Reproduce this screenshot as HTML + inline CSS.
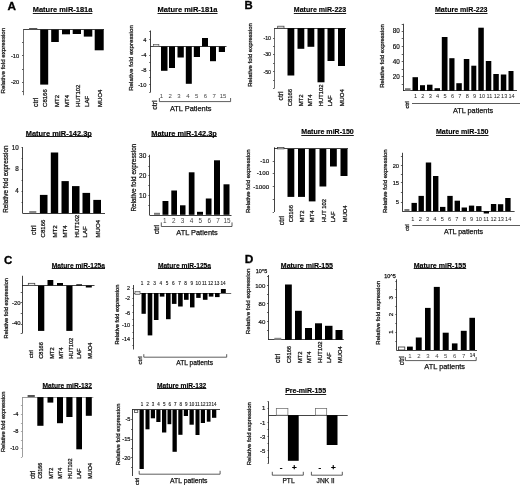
<!DOCTYPE html>
<html><head><meta charset="utf-8"><title>Figure</title>
<style>
html,body{margin:0;padding:0;background:#fff;}
body{width:520px;height:485px;overflow:hidden;}
svg{display:block;font-family:"Liberation Sans",sans-serif;}
</style></head><body>
<svg width="520" height="485" viewBox="0 0 520 485">
<defs><filter id="soft" x="0" y="0" width="520" height="485" filterUnits="userSpaceOnUse"><feGaussianBlur stdDeviation="0.35"/></filter></defs>
<rect x="0" y="0" width="520" height="485" fill="#fff"/>
<g filter="url(#soft)">
<text x="11.65" y="10.20" font-size="11.5" text-anchor="middle" font-weight="bold" fill="#000" stroke="#000" stroke-width="0.3" textLength="8.50" lengthAdjust="spacingAndGlyphs">A</text>
<text x="248.70" y="8.70" font-size="11.5" text-anchor="middle" font-weight="bold" fill="#000" stroke="#000" stroke-width="0.3" textLength="8.20" lengthAdjust="spacingAndGlyphs">B</text>
<text x="8.25" y="263.70" font-size="11.5" text-anchor="middle" font-weight="bold" fill="#000" stroke="#000" stroke-width="0.3" textLength="8.30" lengthAdjust="spacingAndGlyphs">C</text>
<text x="249.10" y="263.10" font-size="11.5" text-anchor="middle" font-weight="bold" fill="#000" stroke="#000" stroke-width="0.3" textLength="8.60" lengthAdjust="spacingAndGlyphs">D</text>
<text x="62.55" y="12.30" font-size="7" text-anchor="middle" font-weight="bold" fill="#000" stroke="#000" stroke-width="0.15" textLength="59.50" lengthAdjust="spacingAndGlyphs">Mature miR-181a</text>
<line x1="32.80" y1="13.50" x2="92.30" y2="13.50" stroke="#000" stroke-width="0.9"/>
<text transform="translate(5.03,60.60) rotate(-90)" font-size="6.2" text-anchor="middle" fill="#111" stroke="#111" stroke-width="0.25">Relative fold expression</text>
<line x1="23.50" y1="29.40" x2="23.50" y2="95.20" stroke="#4a4a4a" stroke-width="0.82"/>
<line x1="23.30" y1="29.50" x2="104.00" y2="29.50" stroke="#1a1a1a" stroke-width="0.82"/>
<line x1="22.00" y1="42.50" x2="23.30" y2="42.50" stroke="#222" stroke-width="0.7"/>
<line x1="22.00" y1="55.50" x2="23.30" y2="55.50" stroke="#222" stroke-width="0.7"/>
<line x1="22.00" y1="69.50" x2="23.30" y2="69.50" stroke="#222" stroke-width="0.7"/>
<line x1="22.00" y1="82.50" x2="23.30" y2="82.50" stroke="#222" stroke-width="0.7"/>
<line x1="22.00" y1="91.50" x2="23.30" y2="91.50" stroke="#222" stroke-width="0.7"/>
<text x="19.20" y="57.66" font-size="5.733" text-anchor="end" fill="#111" stroke="#111" stroke-width="0.2">-10</text>
<text x="19.20" y="84.06" font-size="5.733" text-anchor="end" fill="#111" stroke="#111" stroke-width="0.2">-20</text>
<rect x="29.10" y="28.00" width="8.20" height="1.60" fill="#555"/>
<text transform="translate(37.58,106.90) rotate(-90)" font-size="6.9" text-anchor="start" fill="#111" stroke="#111" stroke-width="0.25">ctrl</text>
<rect x="40.20" y="29.60" width="8.00" height="55.00" fill="#000"/>
<text transform="translate(47.26,106.90) rotate(-90)" font-size="6" text-anchor="start" fill="#111" stroke="#111" stroke-width="0.25">C8166</text>
<rect x="51.20" y="29.60" width="7.60" height="12.40" fill="#000"/>
<text transform="translate(58.56,106.90) rotate(-90)" font-size="6" text-anchor="start" fill="#111" stroke="#111" stroke-width="0.25">MT2</text>
<rect x="62.00" y="29.60" width="8.00" height="4.70" fill="#000"/>
<text transform="translate(68.86,106.90) rotate(-90)" font-size="6" text-anchor="start" fill="#111" stroke="#111" stroke-width="0.25">MT4</text>
<rect x="72.70" y="29.60" width="8.30" height="4.40" fill="#000"/>
<text transform="translate(80.16,106.90) rotate(-90)" font-size="6" text-anchor="start" fill="#111" stroke="#111" stroke-width="0.25">HUT102</text>
<rect x="83.80" y="29.60" width="8.50" height="7.00" fill="#000"/>
<text transform="translate(89.06,106.90) rotate(-90)" font-size="6" text-anchor="start" fill="#111" stroke="#111" stroke-width="0.25">LAF</text>
<rect x="94.70" y="29.60" width="9.00" height="20.70" fill="#000"/>
<text transform="translate(102.16,106.90) rotate(-90)" font-size="6" text-anchor="start" fill="#111" stroke="#111" stroke-width="0.25">MUO4</text>
<text x="187.50" y="12.30" font-size="7" text-anchor="middle" font-weight="bold" fill="#000" stroke="#000" stroke-width="0.15" textLength="60.00" lengthAdjust="spacingAndGlyphs">Mature miR-181a</text>
<line x1="157.50" y1="13.50" x2="217.50" y2="13.50" stroke="#000" stroke-width="0.9"/>
<text transform="translate(132.83,58.00) rotate(-90)" font-size="6.2" text-anchor="middle" fill="#111" stroke="#111" stroke-width="0.25">Relative fold expression</text>
<line x1="150.50" y1="30.50" x2="150.50" y2="92.30" stroke="#1a1a1a" stroke-width="0.82"/>
<line x1="150.50" y1="46.50" x2="226.50" y2="46.50" stroke="#1a1a1a" stroke-width="0.82"/>
<line x1="149.20" y1="31.50" x2="150.50" y2="31.50" stroke="#222" stroke-width="0.7"/>
<line x1="149.20" y1="39.50" x2="150.50" y2="39.50" stroke="#222" stroke-width="0.7"/>
<line x1="149.20" y1="55.50" x2="150.50" y2="55.50" stroke="#222" stroke-width="0.7"/>
<line x1="149.20" y1="62.50" x2="150.50" y2="62.50" stroke="#222" stroke-width="0.7"/>
<line x1="149.20" y1="70.50" x2="150.50" y2="70.50" stroke="#222" stroke-width="0.7"/>
<line x1="149.20" y1="77.50" x2="150.50" y2="77.50" stroke="#222" stroke-width="0.7"/>
<line x1="149.20" y1="84.50" x2="150.50" y2="84.50" stroke="#222" stroke-width="0.7"/>
<line x1="149.20" y1="92.50" x2="150.50" y2="92.50" stroke="#222" stroke-width="0.7"/>
<text x="146.40" y="41.76" font-size="5.733" text-anchor="end" fill="#111" stroke="#111" stroke-width="0.2">4</text>
<text x="146.40" y="57.46" font-size="5.733" text-anchor="end" fill="#111" stroke="#111" stroke-width="0.2">-4</text>
<text x="146.40" y="72.06" font-size="5.733" text-anchor="end" fill="#111" stroke="#111" stroke-width="0.2">-8</text>
<text x="146.40" y="86.96" font-size="5.733" text-anchor="end" fill="#111" stroke="#111" stroke-width="0.2">-10</text>
<rect x="153.50" y="44.50" width="5.40" height="1.90" fill="#ddd" stroke="#444" stroke-width="0.6"/>
<rect x="161.00" y="46.40" width="6.50" height="24.40" fill="#000"/>
<rect x="169.00" y="46.40" width="6.00" height="21.60" fill="#000"/>
<rect x="177.50" y="46.40" width="6.30" height="11.10" fill="#000"/>
<rect x="185.80" y="46.40" width="6.00" height="37.40" fill="#000"/>
<rect x="193.80" y="46.40" width="6.20" height="10.60" fill="#000"/>
<rect x="202.00" y="38.00" width="6.00" height="8.40" fill="#000"/>
<rect x="210.00" y="46.40" width="6.00" height="14.80" fill="#000"/>
<rect x="218.80" y="46.40" width="6.20" height="5.60" fill="#000"/>
<text x="161.40" y="98.20" font-size="6" text-anchor="middle" fill="#444">1</text>
<text x="170.20" y="98.20" font-size="6" text-anchor="middle" fill="#444">2</text>
<text x="179.00" y="98.20" font-size="6" text-anchor="middle" fill="#444">3</text>
<text x="187.80" y="98.20" font-size="6" text-anchor="middle" fill="#444">4</text>
<text x="196.60" y="98.20" font-size="6" text-anchor="middle" fill="#444">5</text>
<text x="205.40" y="98.20" font-size="6" text-anchor="middle" fill="#444">6</text>
<text x="214.20" y="98.20" font-size="6" text-anchor="middle" fill="#444">7</text>
<text x="223.00" y="98.20" font-size="6" text-anchor="middle" fill="#444">15</text>
<text transform="translate(156.52,109.70) rotate(-90)" font-size="7" text-anchor="start" fill="#111" stroke="#111" stroke-width="0.25">ctrl</text>
<polyline points="159.40,98.00 159.40,101.60 230.60,101.60 230.60,98.00" fill="none" stroke="#333" stroke-width="0.8"/>
<text x="190.70" y="110.80" font-size="7.4" text-anchor="middle" fill="#111" stroke="#111" stroke-width="0.25">ATL Patients</text>
<text x="320.00" y="12.30" font-size="7" text-anchor="middle" font-weight="bold" fill="#000" stroke="#000" stroke-width="0.15" textLength="52.40" lengthAdjust="spacingAndGlyphs">Mature miR-223</text>
<line x1="293.80" y1="13.50" x2="346.20" y2="13.50" stroke="#000" stroke-width="0.9"/>
<text transform="translate(251.96,55.00) rotate(-90)" font-size="6" text-anchor="middle" fill="#111" stroke="#111" stroke-width="0.25">Relative fold expression</text>
<line x1="274.50" y1="28.00" x2="274.50" y2="88.40" stroke="#4a4a4a" stroke-width="0.82"/>
<line x1="274.30" y1="28.50" x2="346.00" y2="28.50" stroke="#1a1a1a" stroke-width="0.82"/>
<line x1="273.00" y1="38.50" x2="274.30" y2="38.50" stroke="#222" stroke-width="0.7"/>
<line x1="273.00" y1="46.50" x2="274.30" y2="46.50" stroke="#222" stroke-width="0.7"/>
<line x1="273.00" y1="54.50" x2="274.30" y2="54.50" stroke="#222" stroke-width="0.7"/>
<line x1="273.00" y1="63.50" x2="274.30" y2="63.50" stroke="#222" stroke-width="0.7"/>
<line x1="273.00" y1="71.50" x2="274.30" y2="71.50" stroke="#222" stroke-width="0.7"/>
<line x1="273.00" y1="80.50" x2="274.30" y2="80.50" stroke="#222" stroke-width="0.7"/>
<line x1="273.00" y1="88.50" x2="274.30" y2="88.50" stroke="#222" stroke-width="0.7"/>
<text x="271.00" y="40.00" font-size="5.278" text-anchor="end" fill="#111" stroke="#111" stroke-width="0.2">-10</text>
<text x="271.00" y="56.20" font-size="5.278" text-anchor="end" fill="#111" stroke="#111" stroke-width="0.2">-30</text>
<text x="271.00" y="73.60" font-size="5.278" text-anchor="end" fill="#111" stroke="#111" stroke-width="0.2">-50</text>
<rect x="277.70" y="26.20" width="6.30" height="2.00" fill="#eee" stroke="#333" stroke-width="0.7"/>
<text transform="translate(283.48,100.40) rotate(-90)" font-size="6.6" text-anchor="start" fill="#111" stroke="#111" stroke-width="0.25">ctrl</text>
<rect x="287.50" y="28.20" width="6.80" height="47.30" fill="#000"/>
<text transform="translate(292.22,106.30) rotate(-90)" font-size="5.9" text-anchor="start" fill="#111" stroke="#111" stroke-width="0.25">C8166</text>
<rect x="297.50" y="28.20" width="6.80" height="20.60" fill="#000"/>
<text transform="translate(302.92,106.30) rotate(-90)" font-size="5.9" text-anchor="start" fill="#111" stroke="#111" stroke-width="0.25">MT2</text>
<rect x="307.50" y="28.20" width="6.80" height="18.60" fill="#000"/>
<text transform="translate(312.42,106.30) rotate(-90)" font-size="5.9" text-anchor="start" fill="#111" stroke="#111" stroke-width="0.25">MT4</text>
<rect x="317.50" y="28.20" width="7.00" height="54.10" fill="#000"/>
<text transform="translate(323.42,106.30) rotate(-90)" font-size="5.9" text-anchor="start" fill="#111" stroke="#111" stroke-width="0.25">HUT102</text>
<rect x="327.50" y="28.20" width="7.00" height="32.80" fill="#000"/>
<text transform="translate(332.32,106.30) rotate(-90)" font-size="5.9" text-anchor="start" fill="#111" stroke="#111" stroke-width="0.25">LAF</text>
<rect x="338.00" y="28.20" width="7.00" height="37.80" fill="#000"/>
<text transform="translate(343.72,106.30) rotate(-90)" font-size="5.9" text-anchor="start" fill="#111" stroke="#111" stroke-width="0.25">MUO4</text>
<text x="461.25" y="12.30" font-size="7" text-anchor="middle" font-weight="bold" fill="#000" stroke="#000" stroke-width="0.15" textLength="52.50" lengthAdjust="spacingAndGlyphs">Mature miR-223</text>
<line x1="435.00" y1="13.50" x2="487.50" y2="13.50" stroke="#000" stroke-width="0.9"/>
<text transform="translate(383.86,56.00) rotate(-90)" font-size="6" text-anchor="middle" fill="#111" stroke="#111" stroke-width="0.25">Relative fold expression</text>
<line x1="403.50" y1="23.80" x2="403.50" y2="90.90" stroke="#1a1a1a" stroke-width="0.82"/>
<line x1="403.00" y1="90.50" x2="517.00" y2="90.50" stroke="#1a1a1a" stroke-width="0.82"/>
<text x="399.80" y="33.49" font-size="6.37" text-anchor="end" fill="#111" stroke="#111" stroke-width="0.2">80</text>
<text x="399.80" y="48.79" font-size="6.37" text-anchor="end" fill="#111" stroke="#111" stroke-width="0.2">60</text>
<text x="399.80" y="63.69" font-size="6.37" text-anchor="end" fill="#111" stroke="#111" stroke-width="0.2">40</text>
<text x="399.80" y="79.09" font-size="6.37" text-anchor="end" fill="#111" stroke="#111" stroke-width="0.2">20</text>
<line x1="401.70" y1="24.50" x2="403.00" y2="24.50" stroke="#222" stroke-width="0.7"/>
<line x1="401.70" y1="31.50" x2="403.00" y2="31.50" stroke="#222" stroke-width="0.7"/>
<line x1="401.70" y1="38.50" x2="403.00" y2="38.50" stroke="#222" stroke-width="0.7"/>
<line x1="401.70" y1="46.50" x2="403.00" y2="46.50" stroke="#222" stroke-width="0.7"/>
<line x1="401.70" y1="54.50" x2="403.00" y2="54.50" stroke="#222" stroke-width="0.7"/>
<line x1="401.70" y1="61.50" x2="403.00" y2="61.50" stroke="#222" stroke-width="0.7"/>
<line x1="401.70" y1="69.50" x2="403.00" y2="69.50" stroke="#222" stroke-width="0.7"/>
<line x1="401.70" y1="76.50" x2="403.00" y2="76.50" stroke="#222" stroke-width="0.7"/>
<line x1="401.70" y1="84.50" x2="403.00" y2="84.50" stroke="#222" stroke-width="0.7"/>
<rect x="405.00" y="88.20" width="5.50" height="2.50" fill="#777"/>
<rect x="412.50" y="77.20" width="5.50" height="13.50" fill="#000"/>
<rect x="420.00" y="85.20" width="5.00" height="5.50" fill="#000"/>
<rect x="427.00" y="84.70" width="5.50" height="6.00" fill="#000"/>
<rect x="434.50" y="88.20" width="5.50" height="2.50" fill="#000"/>
<rect x="441.80" y="37.00" width="5.70" height="53.70" fill="#000"/>
<rect x="449.30" y="58.20" width="5.20" height="32.50" fill="#000"/>
<rect x="456.30" y="83.20" width="5.50" height="7.50" fill="#000"/>
<rect x="463.80" y="59.00" width="5.50" height="31.70" fill="#000"/>
<rect x="471.30" y="65.70" width="5.00" height="25.00" fill="#000"/>
<rect x="478.30" y="27.70" width="5.50" height="63.00" fill="#000"/>
<rect x="485.80" y="61.00" width="5.50" height="29.70" fill="#000"/>
<rect x="493.30" y="74.00" width="5.50" height="16.70" fill="#000"/>
<rect x="500.80" y="74.50" width="5.50" height="16.20" fill="#000"/>
<rect x="508.50" y="71.00" width="5.00" height="19.70" fill="#000"/>
<text x="415.50" y="98.20" font-size="5.6" text-anchor="middle" fill="#222">1</text>
<text x="422.89" y="98.20" font-size="5.6" text-anchor="middle" fill="#222">2</text>
<text x="430.28" y="98.20" font-size="5.6" text-anchor="middle" fill="#222">3</text>
<text x="437.68" y="98.20" font-size="5.6" text-anchor="middle" fill="#222">4</text>
<text x="445.07" y="98.20" font-size="5.6" text-anchor="middle" fill="#222">5</text>
<text x="452.46" y="98.20" font-size="5.6" text-anchor="middle" fill="#222">6</text>
<text x="459.85" y="98.20" font-size="5.6" text-anchor="middle" fill="#222">7</text>
<text x="467.25" y="98.20" font-size="5.6" text-anchor="middle" fill="#222">8</text>
<text x="474.64" y="98.20" font-size="5.6" text-anchor="middle" fill="#222">9</text>
<text x="482.03" y="98.20" font-size="5.6" text-anchor="middle" fill="#222">10</text>
<text x="489.42" y="98.20" font-size="5.6" text-anchor="middle" fill="#222">11</text>
<text x="496.82" y="98.20" font-size="5.6" text-anchor="middle" fill="#222">12</text>
<text x="504.21" y="98.20" font-size="5.6" text-anchor="middle" fill="#222">13</text>
<text x="511.60" y="98.20" font-size="5.6" text-anchor="middle" fill="#222">14</text>
<text transform="translate(408.52,108.60) rotate(-90)" font-size="5.6" text-anchor="start" fill="#111" stroke="#111" stroke-width="0.25">ctrl</text>
<line x1="412.00" y1="103.50" x2="520.00" y2="103.50" stroke="#333" stroke-width="0.8"/>
<text x="473.00" y="112.80" font-size="7.3" text-anchor="middle" fill="#111" stroke="#111" stroke-width="0.25">ATL patients</text>
<text x="58.80" y="136.00" font-size="7" text-anchor="middle" font-weight="bold" fill="#000" stroke="#000" stroke-width="0.15" textLength="66.00" lengthAdjust="spacingAndGlyphs">Mature miR-142.3p</text>
<line x1="25.80" y1="136.50" x2="91.80" y2="136.50" stroke="#000" stroke-width="0.9"/>
<text transform="translate(8.49,179.20) rotate(-90)" font-size="6.35" text-anchor="middle" fill="#111" stroke="#111" stroke-width="0.25">Relative fold expression</text>
<line x1="22.50" y1="147.20" x2="22.50" y2="213.50" stroke="#1a1a1a" stroke-width="0.82"/>
<line x1="22.80" y1="213.50" x2="105.00" y2="213.50" stroke="#1a1a1a" stroke-width="0.82"/>
<line x1="21.50" y1="147.50" x2="22.80" y2="147.50" stroke="#222" stroke-width="0.7"/>
<line x1="21.50" y1="158.50" x2="22.80" y2="158.50" stroke="#222" stroke-width="0.7"/>
<line x1="21.50" y1="169.50" x2="22.80" y2="169.50" stroke="#222" stroke-width="0.7"/>
<line x1="21.50" y1="180.50" x2="22.80" y2="180.50" stroke="#222" stroke-width="0.7"/>
<line x1="21.50" y1="191.50" x2="22.80" y2="191.50" stroke="#222" stroke-width="0.7"/>
<line x1="21.50" y1="202.50" x2="22.80" y2="202.50" stroke="#222" stroke-width="0.7"/>
<text x="18.80" y="149.56" font-size="6.279000000000001" text-anchor="end" fill="#111" stroke="#111" stroke-width="0.2">10</text>
<text x="18.80" y="171.46" font-size="6.279000000000001" text-anchor="end" fill="#111" stroke="#111" stroke-width="0.2">8</text>
<text x="18.80" y="193.36" font-size="6.279000000000001" text-anchor="end" fill="#111" stroke="#111" stroke-width="0.2">4</text>
<rect x="29.20" y="211.00" width="7.10" height="2.20" fill="#888"/>
<text transform="translate(36.26,235.20) rotate(-90)" font-size="7.4" text-anchor="start" fill="#111" stroke="#111" stroke-width="0.25">ctrl</text>
<rect x="39.90" y="194.90" width="7.60" height="18.30" fill="#000"/>
<text transform="translate(45.40,237.50) rotate(-90)" font-size="6.1" text-anchor="start" fill="#111" stroke="#111" stroke-width="0.25">C8166</text>
<rect x="50.80" y="152.50" width="7.40" height="60.70" fill="#000"/>
<text transform="translate(56.60,237.50) rotate(-90)" font-size="6.1" text-anchor="start" fill="#111" stroke="#111" stroke-width="0.25">MT2</text>
<rect x="61.50" y="181.10" width="7.30" height="32.10" fill="#000"/>
<text transform="translate(67.20,237.50) rotate(-90)" font-size="6.1" text-anchor="start" fill="#111" stroke="#111" stroke-width="0.25">MT4</text>
<rect x="72.00" y="186.10" width="7.50" height="27.10" fill="#000"/>
<text transform="translate(78.80,237.50) rotate(-90)" font-size="6.1" text-anchor="start" fill="#111" stroke="#111" stroke-width="0.25">HUT102</text>
<rect x="82.50" y="192.90" width="7.60" height="20.30" fill="#000"/>
<text transform="translate(87.10,237.50) rotate(-90)" font-size="6.1" text-anchor="start" fill="#111" stroke="#111" stroke-width="0.25">LAF</text>
<rect x="93.30" y="199.90" width="7.70" height="13.30" fill="#000"/>
<text transform="translate(100.20,237.50) rotate(-90)" font-size="6.1" text-anchor="start" fill="#111" stroke="#111" stroke-width="0.25">MUO4</text>
<text x="184.05" y="136.00" font-size="7" text-anchor="middle" font-weight="bold" fill="#000" stroke="#000" stroke-width="0.15" textLength="65.50" lengthAdjust="spacingAndGlyphs">Mature miR-142.3p</text>
<line x1="151.30" y1="136.50" x2="216.80" y2="136.50" stroke="#000" stroke-width="0.9"/>
<text transform="translate(136.00,177.60) rotate(-90)" font-size="6.4" text-anchor="middle" fill="#111" stroke="#111" stroke-width="0.25">Relative fold expression</text>
<line x1="149.50" y1="154.80" x2="149.50" y2="215.20" stroke="#1a1a1a" stroke-width="0.82"/>
<line x1="149.60" y1="215.50" x2="231.50" y2="215.50" stroke="#1a1a1a" stroke-width="0.82"/>
<line x1="148.30" y1="156.50" x2="149.60" y2="156.50" stroke="#222" stroke-width="0.7"/>
<line x1="148.30" y1="166.50" x2="149.60" y2="166.50" stroke="#222" stroke-width="0.7"/>
<line x1="148.30" y1="175.50" x2="149.60" y2="175.50" stroke="#222" stroke-width="0.7"/>
<line x1="148.30" y1="185.50" x2="149.60" y2="185.50" stroke="#222" stroke-width="0.7"/>
<line x1="148.30" y1="195.50" x2="149.60" y2="195.50" stroke="#222" stroke-width="0.7"/>
<line x1="148.30" y1="205.50" x2="149.60" y2="205.50" stroke="#222" stroke-width="0.7"/>
<text x="146.30" y="158.33" font-size="6.461" text-anchor="end" fill="#111" stroke="#111" stroke-width="0.2">30</text>
<text x="146.30" y="177.73" font-size="6.461" text-anchor="end" fill="#111" stroke="#111" stroke-width="0.2">20</text>
<text x="146.30" y="197.73" font-size="6.461" text-anchor="end" fill="#111" stroke="#111" stroke-width="0.2">10</text>
<rect x="154.00" y="212.80" width="6.00" height="2.00" fill="#777"/>
<rect x="162.50" y="201.00" width="5.90" height="13.80" fill="#000"/>
<rect x="171.30" y="190.50" width="5.70" height="24.30" fill="#000"/>
<rect x="180.00" y="205.30" width="5.50" height="9.50" fill="#000"/>
<rect x="188.80" y="172.30" width="5.70" height="42.50" fill="#000"/>
<rect x="197.00" y="211.80" width="6.00" height="3.00" fill="#000"/>
<rect x="205.80" y="198.50" width="5.70" height="16.30" fill="#000"/>
<rect x="214.00" y="160.30" width="6.00" height="54.50" fill="#000"/>
<rect x="223.50" y="184.30" width="6.00" height="30.50" fill="#000"/>
<text x="164.80" y="223.20" font-size="6.4" text-anchor="middle" fill="#444">1</text>
<text x="173.69" y="223.20" font-size="6.4" text-anchor="middle" fill="#444">2</text>
<text x="182.57" y="223.20" font-size="6.4" text-anchor="middle" fill="#444">3</text>
<text x="191.46" y="223.20" font-size="6.4" text-anchor="middle" fill="#444">4</text>
<text x="200.34" y="223.20" font-size="6.4" text-anchor="middle" fill="#444">5</text>
<text x="209.23" y="223.20" font-size="6.4" text-anchor="middle" fill="#444">6</text>
<text x="218.11" y="223.20" font-size="6.4" text-anchor="middle" fill="#444">7</text>
<text x="227.00" y="223.20" font-size="6.4" text-anchor="middle" fill="#444">15</text>
<text transform="translate(158.52,234.30) rotate(-90)" font-size="7" text-anchor="start" fill="#111" stroke="#111" stroke-width="0.25">ctrl</text>
<polyline points="161.30,222.40 161.30,226.50 232.00,226.50 232.00,222.40" fill="none" stroke="#333" stroke-width="0.8"/>
<text x="197.00" y="235.00" font-size="7.4" text-anchor="middle" fill="#111" stroke="#111" stroke-width="0.25">ATL Patients</text>
<text x="327.55" y="134.30" font-size="7" text-anchor="middle" font-weight="bold" fill="#000" stroke="#000" stroke-width="0.15" textLength="52.50" lengthAdjust="spacingAndGlyphs">Mature miR-150</text>
<line x1="301.30" y1="135.50" x2="353.80" y2="135.50" stroke="#000" stroke-width="0.9"/>
<text transform="translate(249.96,181.20) rotate(-90)" font-size="6" text-anchor="middle" fill="#111" stroke="#111" stroke-width="0.25">Relative fold expression</text>
<line x1="274.50" y1="147.30" x2="274.50" y2="212.00" stroke="#1a1a1a" stroke-width="0.82"/>
<line x1="274.00" y1="148.50" x2="348.00" y2="148.50" stroke="#1a1a1a" stroke-width="0.82"/>
<line x1="272.70" y1="161.50" x2="274.00" y2="161.50" stroke="#222" stroke-width="0.7"/>
<line x1="272.70" y1="173.50" x2="274.00" y2="173.50" stroke="#222" stroke-width="0.7"/>
<line x1="272.70" y1="186.50" x2="274.00" y2="186.50" stroke="#222" stroke-width="0.7"/>
<line x1="272.70" y1="199.50" x2="274.00" y2="199.50" stroke="#222" stroke-width="0.7"/>
<line x1="272.70" y1="212.50" x2="274.00" y2="212.50" stroke="#222" stroke-width="0.7"/>
<text x="269.20" y="162.84" font-size="6.2335" text-anchor="end" fill="#111" stroke="#111" stroke-width="0.2">-10</text>
<text x="269.20" y="175.04" font-size="6.2335" text-anchor="end" fill="#111" stroke="#111" stroke-width="0.2">-100</text>
<text x="269.20" y="188.94" font-size="6.2335" text-anchor="end" fill="#111" stroke="#111" stroke-width="0.2">-1000</text>
<rect x="277.50" y="147.50" width="6.50" height="1.40" fill="#eee" stroke="#333" stroke-width="0.7"/>
<text transform="translate(284.08,225.20) rotate(-90)" font-size="6.9" text-anchor="start" fill="#111" stroke="#111" stroke-width="0.25">ctrl</text>
<rect x="287.50" y="148.90" width="6.80" height="48.00" fill="#000"/>
<text transform="translate(293.09,222.20) rotate(-90)" font-size="5.8" text-anchor="start" fill="#111" stroke="#111" stroke-width="0.25">C8166</text>
<rect x="298.00" y="148.90" width="7.00" height="48.00" fill="#000"/>
<text transform="translate(303.89,222.20) rotate(-90)" font-size="5.8" text-anchor="start" fill="#111" stroke="#111" stroke-width="0.25">MT2</text>
<rect x="308.80" y="148.90" width="6.70" height="52.50" fill="#000"/>
<text transform="translate(314.39,222.20) rotate(-90)" font-size="5.8" text-anchor="start" fill="#111" stroke="#111" stroke-width="0.25">MT4</text>
<rect x="319.50" y="148.90" width="6.80" height="37.60" fill="#000"/>
<text transform="translate(325.79,222.20) rotate(-90)" font-size="5.8" text-anchor="start" fill="#111" stroke="#111" stroke-width="0.25">HUT 102</text>
<rect x="330.00" y="148.90" width="6.80" height="17.60" fill="#000"/>
<text transform="translate(334.59,222.20) rotate(-90)" font-size="5.8" text-anchor="start" fill="#111" stroke="#111" stroke-width="0.25">LAF</text>
<rect x="340.50" y="148.90" width="7.00" height="27.10" fill="#000"/>
<text transform="translate(346.69,222.20) rotate(-90)" font-size="5.8" text-anchor="start" fill="#111" stroke="#111" stroke-width="0.25">MUO4</text>
<text x="462.25" y="134.30" font-size="7" text-anchor="middle" font-weight="bold" fill="#000" stroke="#000" stroke-width="0.15" textLength="52.50" lengthAdjust="spacingAndGlyphs">Mature miR-150</text>
<line x1="436.00" y1="135.50" x2="488.50" y2="135.50" stroke="#000" stroke-width="0.9"/>
<text transform="translate(387.36,181.20) rotate(-90)" font-size="6" text-anchor="middle" fill="#111" stroke="#111" stroke-width="0.25">Relative fold expression</text>
<line x1="402.50" y1="152.80" x2="402.50" y2="211.40" stroke="#1a1a1a" stroke-width="0.82"/>
<line x1="402.20" y1="211.50" x2="514.60" y2="211.50" stroke="#1a1a1a" stroke-width="0.82"/>
<line x1="400.90" y1="156.50" x2="402.20" y2="156.50" stroke="#222" stroke-width="0.7"/>
<line x1="400.90" y1="165.50" x2="402.20" y2="165.50" stroke="#222" stroke-width="0.7"/>
<line x1="400.90" y1="174.50" x2="402.20" y2="174.50" stroke="#222" stroke-width="0.7"/>
<line x1="400.90" y1="182.50" x2="402.20" y2="182.50" stroke="#222" stroke-width="0.7"/>
<line x1="400.90" y1="192.50" x2="402.20" y2="192.50" stroke="#222" stroke-width="0.7"/>
<line x1="400.90" y1="202.50" x2="402.20" y2="202.50" stroke="#222" stroke-width="0.7"/>
<text x="399.00" y="167.56" font-size="5.733" text-anchor="end" fill="#111" stroke="#111" stroke-width="0.2">20</text>
<text x="399.00" y="184.76" font-size="5.733" text-anchor="end" fill="#111" stroke="#111" stroke-width="0.2">15</text>
<text x="399.00" y="204.06" font-size="5.733" text-anchor="end" fill="#111" stroke="#111" stroke-width="0.2">5</text>
<rect x="404.40" y="209.00" width="5.00" height="2.20" fill="#777"/>
<rect x="411.50" y="202.90" width="5.40" height="8.30" fill="#000"/>
<rect x="418.50" y="195.90" width="5.40" height="15.30" fill="#000"/>
<rect x="425.80" y="162.50" width="5.40" height="48.70" fill="#000"/>
<rect x="433.00" y="176.00" width="5.40" height="35.20" fill="#000"/>
<rect x="440.00" y="206.90" width="5.40" height="4.30" fill="#000"/>
<rect x="447.30" y="195.90" width="5.40" height="15.30" fill="#000"/>
<rect x="454.60" y="200.70" width="5.40" height="10.50" fill="#000"/>
<rect x="461.60" y="207.50" width="5.40" height="3.70" fill="#000"/>
<rect x="468.90" y="205.60" width="5.30" height="5.60" fill="#000"/>
<rect x="476.10" y="206.10" width="5.40" height="5.10" fill="#000"/>
<rect x="483.70" y="211.20" width="5.30" height="2.30" fill="#000"/>
<rect x="490.90" y="204.00" width="5.40" height="7.20" fill="#000"/>
<rect x="497.90" y="204.20" width="5.40" height="7.00" fill="#000"/>
<rect x="505.20" y="198.00" width="5.40" height="13.20" fill="#000"/>
<text x="412.90" y="220.70" font-size="5.6" text-anchor="middle" fill="#222">1</text>
<text x="420.23" y="220.70" font-size="5.6" text-anchor="middle" fill="#222">2</text>
<text x="427.56" y="220.70" font-size="5.6" text-anchor="middle" fill="#222">3</text>
<text x="434.89" y="220.70" font-size="5.6" text-anchor="middle" fill="#222">4</text>
<text x="442.22" y="220.70" font-size="5.6" text-anchor="middle" fill="#222">5</text>
<text x="449.55" y="220.70" font-size="5.6" text-anchor="middle" fill="#222">6</text>
<text x="456.88" y="220.70" font-size="5.6" text-anchor="middle" fill="#222">7</text>
<text x="464.22" y="220.70" font-size="5.6" text-anchor="middle" fill="#222">8</text>
<text x="471.55" y="220.70" font-size="5.6" text-anchor="middle" fill="#222">9</text>
<text x="478.88" y="220.70" font-size="5.6" text-anchor="middle" fill="#222">10</text>
<text x="486.21" y="220.70" font-size="5.6" text-anchor="middle" fill="#222">11</text>
<text x="493.54" y="220.70" font-size="5.6" text-anchor="middle" fill="#222">12</text>
<text x="500.87" y="220.70" font-size="5.6" text-anchor="middle" fill="#222">13</text>
<text x="508.20" y="220.70" font-size="5.6" text-anchor="middle" fill="#222">14</text>
<text transform="translate(408.70,231.00) rotate(-90)" font-size="5" text-anchor="start" fill="#111" stroke="#111" stroke-width="0.25">ctrl</text>
<line x1="412.30" y1="225.50" x2="520.00" y2="225.50" stroke="#333" stroke-width="0.8"/>
<text x="463.50" y="233.80" font-size="7.1" text-anchor="middle" fill="#111" stroke="#111" stroke-width="0.25">ATL patients</text>
<text x="78.40" y="267.80" font-size="7" text-anchor="middle" font-weight="bold" fill="#000" stroke="#000" stroke-width="0.15" textLength="53.20" lengthAdjust="spacingAndGlyphs">Mature miR-125a</text>
<line x1="51.80" y1="268.50" x2="105.00" y2="268.50" stroke="#000" stroke-width="0.9"/>
<text transform="translate(7.65,308.20) rotate(-90)" font-size="5.7" text-anchor="middle" fill="#111" stroke="#111" stroke-width="0.25">Relative fold expression</text>
<line x1="22.50" y1="275.80" x2="22.50" y2="333.50" stroke="#1a1a1a" stroke-width="0.82"/>
<line x1="22.00" y1="285.50" x2="94.50" y2="285.50" stroke="#1a1a1a" stroke-width="0.82"/>
<line x1="20.70" y1="292.50" x2="22.00" y2="292.50" stroke="#222" stroke-width="0.7"/>
<line x1="20.70" y1="302.50" x2="22.00" y2="302.50" stroke="#222" stroke-width="0.7"/>
<line x1="20.70" y1="313.50" x2="22.00" y2="313.50" stroke="#222" stroke-width="0.7"/>
<line x1="20.70" y1="324.50" x2="22.00" y2="324.50" stroke="#222" stroke-width="0.7"/>
<line x1="20.70" y1="333.50" x2="22.00" y2="333.50" stroke="#222" stroke-width="0.7"/>
<text x="20.60" y="305.33" font-size="5.915" text-anchor="end" fill="#111" stroke="#111" stroke-width="0.2">-20</text>
<text x="20.60" y="324.93" font-size="5.915" text-anchor="end" fill="#111" stroke="#111" stroke-width="0.2">-40</text>
<rect x="28.30" y="283.30" width="6.50" height="2.30" fill="#eee" stroke="#333" stroke-width="0.7"/>
<text transform="translate(32.73,358.30) rotate(-90)" font-size="6.2" text-anchor="start" fill="#111" stroke="#111" stroke-width="0.25">ctrl</text>
<rect x="38.00" y="285.60" width="6.30" height="45.30" fill="#000"/>
<text transform="translate(43.12,358.70) rotate(-90)" font-size="5.6" text-anchor="start" fill="#111" stroke="#111" stroke-width="0.25">C8166</text>
<rect x="47.50" y="280.00" width="5.80" height="5.60" fill="#000"/>
<text transform="translate(53.62,358.70) rotate(-90)" font-size="5.6" text-anchor="start" fill="#111" stroke="#111" stroke-width="0.25">MT2</text>
<rect x="57.00" y="283.00" width="6.00" height="2.60" fill="#000"/>
<text transform="translate(62.72,358.70) rotate(-90)" font-size="5.6" text-anchor="start" fill="#111" stroke="#111" stroke-width="0.25">MT4</text>
<rect x="66.30" y="285.60" width="6.20" height="45.30" fill="#000"/>
<text transform="translate(72.92,358.70) rotate(-90)" font-size="5.6" text-anchor="start" fill="#111" stroke="#111" stroke-width="0.25">HUT102</text>
<rect x="76.30" y="284.30" width="5.70" height="1.30" fill="#000"/>
<text transform="translate(80.62,358.70) rotate(-90)" font-size="5.6" text-anchor="start" fill="#111" stroke="#111" stroke-width="0.25">LAF</text>
<rect x="85.80" y="285.60" width="6.00" height="1.90" fill="#000"/>
<text transform="translate(92.02,358.70) rotate(-90)" font-size="5.6" text-anchor="start" fill="#111" stroke="#111" stroke-width="0.25">MUO4</text>
<text x="184.45" y="267.80" font-size="7" text-anchor="middle" font-weight="bold" fill="#000" stroke="#000" stroke-width="0.15" textLength="53.10" lengthAdjust="spacingAndGlyphs">Mature miR-125a</text>
<line x1="157.90" y1="268.50" x2="211.00" y2="268.50" stroke="#000" stroke-width="0.9"/>
<text transform="translate(119.33,314.60) rotate(-90)" font-size="5.65" text-anchor="middle" fill="#111" stroke="#111" stroke-width="0.25">Relative fold expression</text>
<line x1="133.50" y1="285.00" x2="133.50" y2="349.50" stroke="#1a1a1a" stroke-width="0.82"/>
<line x1="133.70" y1="293.50" x2="231.20" y2="293.50" stroke="#444" stroke-width="0.82"/>
<line x1="132.40" y1="288.50" x2="133.70" y2="288.50" stroke="#222" stroke-width="0.7"/>
<line x1="132.40" y1="298.50" x2="133.70" y2="298.50" stroke="#222" stroke-width="0.7"/>
<line x1="132.40" y1="305.50" x2="133.70" y2="305.50" stroke="#222" stroke-width="0.7"/>
<line x1="132.40" y1="312.50" x2="133.70" y2="312.50" stroke="#222" stroke-width="0.7"/>
<line x1="132.40" y1="319.50" x2="133.70" y2="319.50" stroke="#222" stroke-width="0.7"/>
<line x1="132.40" y1="325.50" x2="133.70" y2="325.50" stroke="#222" stroke-width="0.7"/>
<line x1="132.40" y1="332.50" x2="133.70" y2="332.50" stroke="#222" stroke-width="0.7"/>
<line x1="132.40" y1="338.50" x2="133.70" y2="338.50" stroke="#222" stroke-width="0.7"/>
<line x1="132.40" y1="345.50" x2="133.70" y2="345.50" stroke="#222" stroke-width="0.7"/>
<text x="130.00" y="290.17" font-size="5.46" text-anchor="end" fill="#111" stroke="#111" stroke-width="0.2">2</text>
<text x="130.00" y="300.47" font-size="5.46" text-anchor="end" fill="#111" stroke="#111" stroke-width="0.2">-2</text>
<text x="130.00" y="314.67" font-size="5.46" text-anchor="end" fill="#111" stroke="#111" stroke-width="0.2">-6</text>
<text x="130.00" y="327.37" font-size="5.46" text-anchor="end" fill="#111" stroke="#111" stroke-width="0.2">-10</text>
<text x="130.00" y="340.87" font-size="5.46" text-anchor="end" fill="#111" stroke="#111" stroke-width="0.2">-14</text>
<rect x="135.00" y="291.60" width="5.00" height="2.80" fill="#ddd" stroke="#444" stroke-width="0.6"/>
<rect x="141.50" y="293.00" width="4.30" height="20.80" fill="#000"/>
<rect x="147.70" y="293.00" width="4.60" height="42.40" fill="#000"/>
<rect x="153.90" y="293.00" width="4.60" height="27.00" fill="#000"/>
<rect x="159.80" y="293.00" width="4.60" height="3.60" fill="#000"/>
<rect x="166.00" y="293.00" width="4.60" height="26.20" fill="#000"/>
<rect x="171.90" y="293.00" width="4.60" height="10.90" fill="#000"/>
<rect x="178.10" y="293.00" width="4.60" height="13.50" fill="#000"/>
<rect x="184.00" y="293.00" width="4.60" height="6.80" fill="#000"/>
<rect x="190.00" y="293.00" width="4.50" height="14.40" fill="#000"/>
<rect x="196.20" y="293.00" width="4.50" height="4.90" fill="#000"/>
<rect x="202.90" y="293.00" width="4.60" height="6.80" fill="#000"/>
<rect x="208.80" y="293.00" width="4.60" height="3.60" fill="#000"/>
<rect x="215.00" y="293.00" width="4.60" height="4.10" fill="#000"/>
<rect x="220.90" y="289.00" width="4.90" height="4.00" fill="#000"/>
<text x="142.00" y="284.70" font-size="4.7" text-anchor="middle" fill="#222" stroke="#222" stroke-width="0.12">1</text>
<text x="148.24" y="284.70" font-size="4.7" text-anchor="middle" fill="#222" stroke="#222" stroke-width="0.12">2</text>
<text x="154.48" y="284.70" font-size="4.7" text-anchor="middle" fill="#222" stroke="#222" stroke-width="0.12">3</text>
<text x="160.72" y="284.70" font-size="4.7" text-anchor="middle" fill="#222" stroke="#222" stroke-width="0.12">4</text>
<text x="166.95" y="284.70" font-size="4.7" text-anchor="middle" fill="#222" stroke="#222" stroke-width="0.12">5</text>
<text x="173.19" y="284.70" font-size="4.7" text-anchor="middle" fill="#222" stroke="#222" stroke-width="0.12">6</text>
<text x="179.43" y="284.70" font-size="4.7" text-anchor="middle" fill="#222" stroke="#222" stroke-width="0.12">7</text>
<text x="185.67" y="284.70" font-size="4.7" text-anchor="middle" fill="#222" stroke="#222" stroke-width="0.12">8</text>
<text x="191.91" y="284.70" font-size="4.7" text-anchor="middle" fill="#222" stroke="#222" stroke-width="0.12">9</text>
<text x="198.15" y="284.70" font-size="4.7" text-anchor="middle" fill="#222" stroke="#222" stroke-width="0.12">10</text>
<text x="204.38" y="284.70" font-size="4.7" text-anchor="middle" fill="#222" stroke="#222" stroke-width="0.12">11</text>
<text x="210.62" y="284.70" font-size="4.7" text-anchor="middle" fill="#222" stroke="#222" stroke-width="0.12">12</text>
<text x="216.86" y="284.70" font-size="4.7" text-anchor="middle" fill="#222" stroke="#222" stroke-width="0.12">13</text>
<text x="223.10" y="284.70" font-size="4.7" text-anchor="middle" fill="#222" stroke="#222" stroke-width="0.12">14</text>
<text transform="translate(141.76,364.40) rotate(-90)" font-size="6" text-anchor="start" fill="#111" stroke="#111" stroke-width="0.25">ctrl</text>
<polyline points="143.80,354.20 143.80,357.20 226.70,357.20 226.70,354.20" fill="none" stroke="#333" stroke-width="0.8"/>
<text x="194.60" y="365.00" font-size="6.7" text-anchor="middle" fill="#111" stroke="#111" stroke-width="0.25">ATL patients</text>
<text x="306.90" y="267.80" font-size="7" text-anchor="middle" font-weight="bold" fill="#000" stroke="#000" stroke-width="0.15" textLength="52.20" lengthAdjust="spacingAndGlyphs">Mature miR-155</text>
<line x1="280.80" y1="268.50" x2="333.00" y2="268.50" stroke="#000" stroke-width="0.9"/>
<text transform="translate(250.23,301.40) rotate(-90)" font-size="6.2" text-anchor="middle" fill="#111" stroke="#111" stroke-width="0.25">Relative fold expression</text>
<text x="261.60" y="273.00" font-size="5.4" text-anchor="middle" fill="#111" stroke="#111" stroke-width="0.25">10^5</text>
<line x1="268.50" y1="275.00" x2="268.50" y2="340.00" stroke="#1a1a1a" stroke-width="0.82"/>
<line x1="268.30" y1="339.50" x2="343.80" y2="339.50" stroke="#1a1a1a" stroke-width="0.82"/>
<line x1="267.00" y1="276.50" x2="268.30" y2="276.50" stroke="#222" stroke-width="0.7"/>
<line x1="267.00" y1="285.50" x2="268.30" y2="285.50" stroke="#222" stroke-width="0.7"/>
<line x1="267.00" y1="294.50" x2="268.30" y2="294.50" stroke="#222" stroke-width="0.7"/>
<line x1="267.00" y1="303.50" x2="268.30" y2="303.50" stroke="#222" stroke-width="0.7"/>
<line x1="267.00" y1="312.50" x2="268.30" y2="312.50" stroke="#222" stroke-width="0.7"/>
<line x1="267.00" y1="321.50" x2="268.30" y2="321.50" stroke="#222" stroke-width="0.7"/>
<line x1="267.00" y1="330.50" x2="268.30" y2="330.50" stroke="#222" stroke-width="0.7"/>
<text x="265.30" y="288.49" font-size="6.097" text-anchor="end" fill="#111" stroke="#111" stroke-width="0.2">100</text>
<text x="265.30" y="306.29" font-size="6.097" text-anchor="end" fill="#111" stroke="#111" stroke-width="0.2">80</text>
<text x="265.30" y="324.39" font-size="6.097" text-anchor="end" fill="#111" stroke="#111" stroke-width="0.2">40</text>
<rect x="274.30" y="337.80" width="7.00" height="2.00" fill="#888"/>
<text transform="translate(279.78,363.00) rotate(-90)" font-size="6.9" text-anchor="start" fill="#111" stroke="#111" stroke-width="0.25">ctrl</text>
<rect x="285.00" y="284.50" width="6.80" height="55.30" fill="#000"/>
<text transform="translate(290.89,363.00) rotate(-90)" font-size="5.8" text-anchor="start" fill="#111" stroke="#111" stroke-width="0.25">C8166</text>
<rect x="295.00" y="310.80" width="6.80" height="29.00" fill="#000"/>
<text transform="translate(301.69,363.00) rotate(-90)" font-size="5.8" text-anchor="start" fill="#111" stroke="#111" stroke-width="0.25">MT2</text>
<rect x="305.00" y="328.00" width="7.00" height="11.80" fill="#000"/>
<text transform="translate(310.69,363.00) rotate(-90)" font-size="5.8" text-anchor="start" fill="#111" stroke="#111" stroke-width="0.25">MT4</text>
<rect x="315.00" y="323.30" width="7.00" height="16.50" fill="#000"/>
<text transform="translate(321.79,363.00) rotate(-90)" font-size="5.8" text-anchor="start" fill="#111" stroke="#111" stroke-width="0.25">HUT102</text>
<rect x="325.00" y="325.80" width="7.50" height="14.00" fill="#000"/>
<text transform="translate(330.69,363.00) rotate(-90)" font-size="5.8" text-anchor="start" fill="#111" stroke="#111" stroke-width="0.25">LAF</text>
<rect x="335.50" y="330.00" width="7.00" height="9.80" fill="#000"/>
<text transform="translate(342.09,363.00) rotate(-90)" font-size="5.8" text-anchor="start" fill="#111" stroke="#111" stroke-width="0.25">MUO4</text>
<text x="439.95" y="267.80" font-size="7" text-anchor="middle" font-weight="bold" fill="#000" stroke="#000" stroke-width="0.15" textLength="52.50" lengthAdjust="spacingAndGlyphs">Mature miR-155</text>
<line x1="413.70" y1="268.50" x2="466.20" y2="268.50" stroke="#000" stroke-width="0.9"/>
<text transform="translate(379.56,312.80) rotate(-90)" font-size="6" text-anchor="middle" fill="#111" stroke="#111" stroke-width="0.25">Relative fold expression</text>
<text x="390.00" y="278.00" font-size="5.4" text-anchor="middle" fill="#111" stroke="#111" stroke-width="0.25">10^5</text>
<line x1="396.50" y1="279.30" x2="396.50" y2="350.60" stroke="#1a1a1a" stroke-width="0.82"/>
<line x1="396.60" y1="350.50" x2="477.00" y2="350.50" stroke="#1a1a1a" stroke-width="0.82"/>
<line x1="395.30" y1="281.50" x2="396.60" y2="281.50" stroke="#222" stroke-width="0.7"/>
<line x1="395.30" y1="289.50" x2="396.60" y2="289.50" stroke="#222" stroke-width="0.7"/>
<line x1="395.30" y1="297.50" x2="396.60" y2="297.50" stroke="#222" stroke-width="0.7"/>
<line x1="395.30" y1="306.50" x2="396.60" y2="306.50" stroke="#222" stroke-width="0.7"/>
<line x1="395.30" y1="314.50" x2="396.60" y2="314.50" stroke="#222" stroke-width="0.7"/>
<line x1="395.30" y1="323.50" x2="396.60" y2="323.50" stroke="#222" stroke-width="0.7"/>
<line x1="395.30" y1="332.50" x2="396.60" y2="332.50" stroke="#222" stroke-width="0.7"/>
<line x1="395.30" y1="341.50" x2="396.60" y2="341.50" stroke="#222" stroke-width="0.7"/>
<text transform="translate(393.03,297.90) rotate(-90)" font-size="6.2" text-anchor="middle" fill="#111" stroke="#111" stroke-width="0.2">3</text>
<text transform="translate(393.03,314.60) rotate(-90)" font-size="6.2" text-anchor="middle" fill="#111" stroke="#111" stroke-width="0.2">2</text>
<text transform="translate(393.03,332.10) rotate(-90)" font-size="6.2" text-anchor="middle" fill="#111" stroke="#111" stroke-width="0.2">1</text>
<rect x="398.50" y="347.00" width="6.30" height="3.00" fill="#fff" stroke="#333" stroke-width="0.8"/>
<rect x="407.00" y="346.60" width="5.80" height="3.40" fill="#000"/>
<rect x="415.80" y="337.50" width="5.90" height="12.50" fill="#000"/>
<rect x="425.00" y="307.90" width="5.60" height="42.10" fill="#000"/>
<rect x="433.80" y="286.90" width="6.00" height="63.10" fill="#000"/>
<rect x="442.70" y="332.70" width="6.00" height="17.30" fill="#000"/>
<rect x="451.90" y="343.40" width="5.60" height="6.60" fill="#000"/>
<rect x="460.80" y="330.80" width="5.90" height="19.20" fill="#000"/>
<rect x="469.40" y="317.80" width="5.60" height="32.20" fill="#000"/>
<text x="410.00" y="357.60" font-size="6" text-anchor="middle" fill="#444">1</text>
<text x="418.93" y="357.60" font-size="6" text-anchor="middle" fill="#444">2</text>
<text x="427.87" y="357.60" font-size="6" text-anchor="middle" fill="#444">3</text>
<text x="436.80" y="357.60" font-size="6" text-anchor="middle" fill="#444">4</text>
<text x="445.73" y="357.60" font-size="6" text-anchor="middle" fill="#444">5</text>
<text x="454.67" y="357.60" font-size="6" text-anchor="middle" fill="#444">6</text>
<text x="463.60" y="357.60" font-size="6" text-anchor="middle" fill="#444">7</text>
<text x="472.40" y="357.20" font-size="4.6" text-anchor="middle" font-weight="bold" fill="#222">14</text>
<text transform="translate(403.61,365.20) rotate(-90)" font-size="6.7" text-anchor="start" fill="#111" stroke="#111" stroke-width="0.25">ctrl</text>
<polyline points="405.40,357.00 405.40,360.60 476.20,360.60 476.20,357.00" fill="none" stroke="#333" stroke-width="0.8"/>
<text x="444.70" y="369.20" font-size="7.4" text-anchor="middle" fill="#111" stroke="#111" stroke-width="0.25">ATL patients</text>
<text x="67.25" y="388.10" font-size="7" text-anchor="middle" font-weight="bold" fill="#000" stroke="#000" stroke-width="0.15" textLength="49.50" lengthAdjust="spacingAndGlyphs">Mature miR-132</text>
<line x1="42.50" y1="388.50" x2="92.00" y2="388.50" stroke="#000" stroke-width="0.9"/>
<text transform="translate(4.65,421.80) rotate(-90)" font-size="5.7" text-anchor="middle" fill="#111" stroke="#111" stroke-width="0.25">Relative fold expression</text>
<line x1="22.50" y1="397.00" x2="22.50" y2="457.00" stroke="#888" stroke-width="0.82"/>
<line x1="22.20" y1="397.50" x2="93.30" y2="397.50" stroke="#888" stroke-width="0.82"/>
<line x1="20.90" y1="405.50" x2="22.20" y2="405.50" stroke="#888" stroke-width="0.7"/>
<line x1="20.90" y1="414.50" x2="22.20" y2="414.50" stroke="#888" stroke-width="0.7"/>
<line x1="20.90" y1="423.50" x2="22.20" y2="423.50" stroke="#888" stroke-width="0.7"/>
<line x1="20.90" y1="431.50" x2="22.20" y2="431.50" stroke="#888" stroke-width="0.7"/>
<line x1="20.90" y1="440.50" x2="22.20" y2="440.50" stroke="#888" stroke-width="0.7"/>
<line x1="20.90" y1="448.50" x2="22.20" y2="448.50" stroke="#888" stroke-width="0.7"/>
<line x1="20.90" y1="457.50" x2="22.20" y2="457.50" stroke="#888" stroke-width="0.7"/>
<text x="18.30" y="415.83" font-size="5.642" text-anchor="end" fill="#111" stroke="#111" stroke-width="0.2">-4</text>
<text x="18.30" y="433.33" font-size="5.642" text-anchor="end" fill="#111" stroke="#111" stroke-width="0.2">-8</text>
<text x="18.30" y="450.33" font-size="5.642" text-anchor="end" fill="#111" stroke="#111" stroke-width="0.2">-10</text>
<rect x="27.60" y="395.00" width="7.20" height="2.10" fill="#555"/>
<text transform="translate(35.10,479.10) rotate(-90)" font-size="6.4" text-anchor="start" fill="#111" stroke="#111" stroke-width="0.25">ctrl</text>
<rect x="37.30" y="397.10" width="6.20" height="28.70" fill="#000"/>
<text transform="translate(42.48,478.80) rotate(-90)" font-size="5.5" text-anchor="start" fill="#111" stroke="#111" stroke-width="0.25">C8166</text>
<rect x="47.50" y="397.10" width="5.80" height="5.50" fill="#000"/>
<text transform="translate(52.78,478.80) rotate(-90)" font-size="5.5" text-anchor="start" fill="#111" stroke="#111" stroke-width="0.25">MT2</text>
<rect x="57.00" y="397.10" width="6.00" height="26.10" fill="#000"/>
<text transform="translate(62.38,478.80) rotate(-90)" font-size="5.5" text-anchor="start" fill="#111" stroke="#111" stroke-width="0.25">MT4</text>
<rect x="66.30" y="397.10" width="6.20" height="19.90" fill="#000"/>
<text transform="translate(72.48,478.80) rotate(-90)" font-size="5.5" text-anchor="start" fill="#111" stroke="#111" stroke-width="0.25">HUT102</text>
<rect x="76.30" y="397.10" width="5.70" height="52.20" fill="#000"/>
<text transform="translate(80.58,478.80) rotate(-90)" font-size="5.5" text-anchor="start" fill="#111" stroke="#111" stroke-width="0.25">LAF</text>
<rect x="85.80" y="397.10" width="6.00" height="18.70" fill="#000"/>
<text transform="translate(91.98,478.80) rotate(-90)" font-size="5.5" text-anchor="start" fill="#111" stroke="#111" stroke-width="0.25">MUO4</text>
<text x="181.65" y="388.20" font-size="7" text-anchor="middle" font-weight="bold" fill="#000" stroke="#000" stroke-width="0.15" textLength="49.30" lengthAdjust="spacingAndGlyphs">Mature miR-132</text>
<line x1="157.00" y1="388.50" x2="206.30" y2="388.50" stroke="#000" stroke-width="0.9"/>
<text transform="translate(119.89,434.40) rotate(-90)" font-size="5.8" text-anchor="middle" fill="#111" stroke="#111" stroke-width="0.25">Relative fold expression</text>
<line x1="132.50" y1="409.00" x2="132.50" y2="476.00" stroke="#1a1a1a" stroke-width="0.82"/>
<line x1="132.40" y1="409.50" x2="220.00" y2="409.50" stroke="#1a1a1a" stroke-width="0.82"/>
<line x1="131.10" y1="419.50" x2="132.40" y2="419.50" stroke="#222" stroke-width="0.7"/>
<line x1="131.10" y1="429.50" x2="132.40" y2="429.50" stroke="#222" stroke-width="0.7"/>
<line x1="131.10" y1="439.50" x2="132.40" y2="439.50" stroke="#222" stroke-width="0.7"/>
<line x1="131.10" y1="448.50" x2="132.40" y2="448.50" stroke="#222" stroke-width="0.7"/>
<line x1="131.10" y1="457.50" x2="132.40" y2="457.50" stroke="#222" stroke-width="0.7"/>
<line x1="131.10" y1="467.50" x2="132.40" y2="467.50" stroke="#222" stroke-width="0.7"/>
<text x="130.50" y="421.06" font-size="5.733" text-anchor="end" fill="#111" stroke="#111" stroke-width="0.2">-5</text>
<text x="130.50" y="441.06" font-size="5.733" text-anchor="end" fill="#111" stroke="#111" stroke-width="0.2">-15</text>
<text x="130.50" y="459.86" font-size="5.733" text-anchor="end" fill="#111" stroke="#111" stroke-width="0.2">-20</text>
<rect x="134.60" y="410.00" width="3.20" height="2.60" fill="#fff" stroke="#333" stroke-width="0.7"/>
<rect x="139.50" y="409.80" width="4.30" height="59.20" fill="#000"/>
<rect x="145.50" y="409.80" width="4.00" height="19.50" fill="#000"/>
<rect x="150.80" y="409.80" width="4.20" height="8.50" fill="#000"/>
<rect x="156.30" y="409.80" width="4.20" height="12.20" fill="#000"/>
<rect x="162.00" y="409.80" width="4.30" height="22.70" fill="#000"/>
<rect x="167.50" y="409.80" width="3.80" height="14.40" fill="#000"/>
<rect x="172.50" y="409.80" width="4.30" height="42.00" fill="#000"/>
<rect x="178.30" y="409.80" width="4.20" height="25.00" fill="#000"/>
<rect x="183.80" y="409.80" width="4.20" height="6.20" fill="#000"/>
<rect x="189.50" y="409.80" width="4.30" height="14.90" fill="#000"/>
<rect x="195.50" y="409.80" width="4.00" height="25.20" fill="#000"/>
<rect x="200.80" y="409.80" width="4.20" height="13.20" fill="#000"/>
<rect x="206.80" y="409.80" width="3.70" height="11.90" fill="#000"/>
<rect x="212.00" y="409.80" width="4.30" height="8.00" fill="#000"/>
<text x="142.00" y="405.90" font-size="4.5" text-anchor="middle" fill="#222" stroke="#222" stroke-width="0.12">1</text>
<text x="147.54" y="405.90" font-size="4.5" text-anchor="middle" fill="#222" stroke="#222" stroke-width="0.12">2</text>
<text x="153.08" y="405.90" font-size="4.5" text-anchor="middle" fill="#222" stroke="#222" stroke-width="0.12">3</text>
<text x="158.62" y="405.90" font-size="4.5" text-anchor="middle" fill="#222" stroke="#222" stroke-width="0.12">4</text>
<text x="164.15" y="405.90" font-size="4.5" text-anchor="middle" fill="#222" stroke="#222" stroke-width="0.12">5</text>
<text x="169.69" y="405.90" font-size="4.5" text-anchor="middle" fill="#222" stroke="#222" stroke-width="0.12">6</text>
<text x="175.23" y="405.90" font-size="4.5" text-anchor="middle" fill="#222" stroke="#222" stroke-width="0.12">7</text>
<text x="180.77" y="405.90" font-size="4.5" text-anchor="middle" fill="#222" stroke="#222" stroke-width="0.12">8</text>
<text x="186.31" y="405.90" font-size="4.5" text-anchor="middle" fill="#222" stroke="#222" stroke-width="0.12">9</text>
<text x="191.85" y="405.90" font-size="4.5" text-anchor="middle" fill="#222" stroke="#222" stroke-width="0.12">10</text>
<text x="197.38" y="405.90" font-size="4.5" text-anchor="middle" fill="#222" stroke="#222" stroke-width="0.12">11</text>
<text x="202.92" y="405.90" font-size="4.5" text-anchor="middle" fill="#222" stroke="#222" stroke-width="0.12">12</text>
<text x="208.46" y="405.90" font-size="4.5" text-anchor="middle" fill="#222" stroke="#222" stroke-width="0.12">13</text>
<text x="214.00" y="405.90" font-size="4.5" text-anchor="middle" fill="#222" stroke="#222" stroke-width="0.12">14</text>
<text transform="translate(138.58,485.00) rotate(-90)" font-size="5.5" text-anchor="start" fill="#111" stroke="#111" stroke-width="0.25">ctrl</text>
<polyline points="139.20,470.80 139.20,474.20 220.10,474.20 220.10,470.80" fill="none" stroke="#333" stroke-width="0.8"/>
<text x="188.80" y="483.20" font-size="6.8" text-anchor="middle" fill="#111" stroke="#111" stroke-width="0.25">ATL patients</text>
<text x="305.70" y="393.30" font-size="7" text-anchor="middle" font-weight="bold" fill="#000" stroke="#000" stroke-width="0.15" textLength="41.00" lengthAdjust="spacingAndGlyphs">Pre-miR-155</text>
<line x1="285.20" y1="394.50" x2="326.20" y2="394.50" stroke="#000" stroke-width="0.9"/>
<text transform="translate(250.94,433.70) rotate(-90)" font-size="5.95" text-anchor="middle" fill="#111" stroke="#111" stroke-width="0.25">Relative fold expression</text>
<line x1="268.50" y1="401.70" x2="268.50" y2="463.30" stroke="#1a1a1a" stroke-width="0.82"/>
<line x1="268.80" y1="415.50" x2="347.70" y2="415.50" stroke="#1a1a1a" stroke-width="0.82"/>
<line x1="267.50" y1="401.50" x2="268.80" y2="401.50" stroke="#222" stroke-width="0.7"/>
<line x1="267.50" y1="408.50" x2="268.80" y2="408.50" stroke="#222" stroke-width="0.7"/>
<line x1="267.50" y1="422.50" x2="268.80" y2="422.50" stroke="#222" stroke-width="0.7"/>
<line x1="267.50" y1="429.50" x2="268.80" y2="429.50" stroke="#222" stroke-width="0.7"/>
<line x1="267.50" y1="436.50" x2="268.80" y2="436.50" stroke="#222" stroke-width="0.7"/>
<line x1="267.50" y1="443.50" x2="268.80" y2="443.50" stroke="#222" stroke-width="0.7"/>
<line x1="267.50" y1="450.50" x2="268.80" y2="450.50" stroke="#222" stroke-width="0.7"/>
<line x1="267.50" y1="457.50" x2="268.80" y2="457.50" stroke="#222" stroke-width="0.7"/>
<line x1="267.50" y1="463.50" x2="268.80" y2="463.50" stroke="#222" stroke-width="0.7"/>
<text x="265.30" y="410.46" font-size="6.006" text-anchor="end" fill="#111" stroke="#111" stroke-width="0.2">1</text>
<text x="265.30" y="424.66" font-size="6.006" text-anchor="end" fill="#111" stroke="#111" stroke-width="0.2">-1</text>
<text x="265.30" y="438.56" font-size="6.006" text-anchor="end" fill="#111" stroke="#111" stroke-width="0.2">-3</text>
<text x="265.30" y="452.56" font-size="6.006" text-anchor="end" fill="#111" stroke="#111" stroke-width="0.2">-5</text>
<rect x="276.30" y="408.40" width="11.60" height="6.80" fill="#fff" stroke="#666" stroke-width="0.7"/>
<rect x="287.90" y="415.20" width="10.80" height="45.60" fill="#000"/>
<rect x="315.40" y="408.40" width="11.30" height="6.80" fill="#fff" stroke="#666" stroke-width="0.7"/>
<rect x="326.70" y="415.20" width="10.80" height="29.80" fill="#000"/>
<text x="281.00" y="470.20" font-size="8" text-anchor="middle" font-weight="bold" fill="#000" stroke="#000" stroke-width="0.25">-</text>
<text x="294.30" y="470.20" font-size="8" text-anchor="middle" font-weight="bold" fill="#000" stroke="#000" stroke-width="0.25">+</text>
<text x="319.80" y="470.20" font-size="8" text-anchor="middle" font-weight="bold" fill="#000" stroke="#000" stroke-width="0.25">-</text>
<text x="333.40" y="470.20" font-size="8" text-anchor="middle" font-weight="bold" fill="#000" stroke="#000" stroke-width="0.25">+</text>
<polyline points="272.30,471.80 272.30,475.20 303.30,475.20 303.30,471.80" fill="none" stroke="#333" stroke-width="0.8"/>
<polyline points="311.40,471.80 311.40,475.20 342.30,475.20 342.30,471.80" fill="none" stroke="#333" stroke-width="0.8"/>
<text x="288.50" y="483.40" font-size="6.6" text-anchor="middle" fill="#111" stroke="#111" stroke-width="0.25">PTL</text>
<text x="325.60" y="483.40" font-size="6.6" text-anchor="middle" fill="#111" stroke="#111" stroke-width="0.25">JNK II</text>
</g>
</svg>
</body></html>
